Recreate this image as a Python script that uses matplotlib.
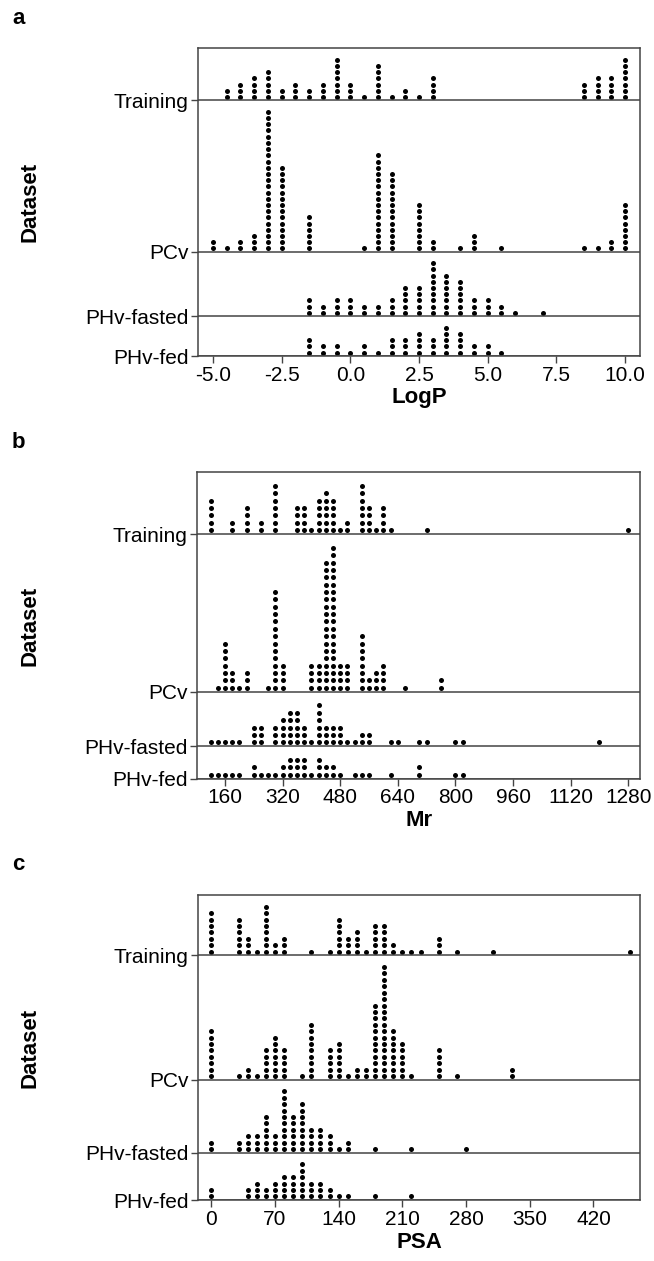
import numpy as np
import matplotlib.pyplot as plt

plt.rcParams['font.family'] = ['Liberation Sans', 'DejaVu Sans']

groups = ['Training', 'PCv', 'PHv-fasted', 'PHv-fed']

# panel a: LogP
logp_training_x = [-4.5, -4, -3.5, -3, -2.5, -2, -1.5, -1, -0.5, 0, 0.5, 1, 1.5, 2, 2.5, 3, 8.5, 9, 9.5, 10]
logp_training_n = [2, 3, 4, 5, 2, 3, 2, 3, 7, 3, 1, 6, 1, 2, 1, 4, 3, 4, 4, 7]
logp_pcv_x = [-5, -4.5, -4, -3.5, -3, -2.5, -1.5, 0.5, 1, 1.5, 2.5, 3, 4, 4.5, 5.5, 8.5, 9, 9.5, 10]
logp_pcv_n = [2, 1, 2, 3, 23, 14, 6, 1, 16, 13, 8, 2, 1, 3, 1, 1, 1, 2, 8]
logp_fasted_x = [-1.5, -1, -0.5, 0, 0.5, 1, 1.5, 2, 2.5, 3, 3.5, 4, 4.5, 5, 5.5, 6, 7]
logp_fasted_n = [3, 2, 3, 3, 2, 2, 3, 5, 5, 9, 7, 6, 3, 3, 2, 1, 1]
logp_fed_x = [-1.5, -1, -0.5, 0, 0.5, 1, 1.5, 2, 2.5, 3, 3.5, 4, 4.5, 5, 5.5]
logp_fed_n = [3, 2, 2, 1, 2, 1, 3, 3, 4, 3, 5, 4, 2, 2, 1]
logp_ticks = [-5.0, -2.5, 0.0, 2.5, 5.0, 7.5, 10.0]

# panel b: Mr
mr_training_x = [120, 180, 220, 260, 300, 360, 380, 400, 420, 440, 460, 480, 500, 540, 560, 580, 600, 620, 720, 1280]
mr_training_n = [5, 2, 4, 2, 7, 4, 4, 1, 5, 6, 5, 1, 2, 7, 4, 1, 4, 1, 1, 1]
mr_pcv_x = [140, 160, 180, 200, 220, 280, 300, 320, 400, 420, 440, 460, 480, 500, 540, 560, 580, 600, 660, 760]
mr_pcv_n = [1, 7, 3, 1, 3, 1, 14, 4, 4, 4, 18, 20, 4, 4, 8, 2, 3, 4, 1, 2]
mr_fasted_x = [120, 140, 160, 180, 200, 240, 260, 300, 320, 340, 360, 380, 400, 420, 440, 460, 480, 500,
               520, 540, 560, 620, 640, 700, 720, 800, 820, 1200]
mr_fasted_n = [1, 1, 1, 1, 1, 3, 3, 3, 4, 5, 5, 3, 1, 6, 3, 3, 3, 1, 1, 2, 2, 1, 1, 1, 1, 1, 1, 1]
mr_fed_x = [120, 140, 160, 180, 200, 240, 260, 280, 300, 320, 340, 360, 380, 400, 420, 440, 460, 480,
            520, 540, 560, 620, 700, 800, 820]
mr_fed_n = [1, 1, 1, 1, 1, 2, 1, 1, 1, 2, 3, 3, 3, 1, 3, 2, 2, 1, 1, 1, 1, 1, 2, 1, 1]
mr_ticks = [160, 320, 480, 640, 800, 960, 1120, 1280]

# panel c: PSA
psa_training_x = [0, 30, 40, 50, 60, 70, 80, 110, 130, 140, 150, 160, 170, 180, 190, 200, 210, 220, 230, 250, 270, 310, 460]
psa_training_n = [7, 6, 3, 1, 8, 2, 3, 1, 1, 6, 3, 4, 1, 5, 5, 2, 1, 1, 1, 3, 1, 1, 1]
psa_pcv_x = [0, 30, 40, 50, 60, 70, 80, 100, 110, 130, 140, 150, 160, 170, 180, 190, 200, 210, 220, 250, 270, 330]
psa_pcv_n = [8, 1, 2, 1, 5, 7, 5, 1, 9, 5, 6, 1, 2, 2, 12, 18, 8, 6, 1, 5, 1, 2]
psa_fasted_x = [0, 30, 40, 50, 60, 70, 80, 90, 100, 110, 120, 130, 140, 150, 180, 220, 280]
psa_fasted_n = [2, 2, 3, 3, 6, 3, 10, 6, 8, 4, 4, 3, 1, 2, 1, 1, 1]
psa_fed_x = [0, 40, 50, 60, 70, 80, 90, 100, 110, 120, 130, 140, 150, 180, 220]
psa_fed_n = [2, 2, 3, 2, 3, 4, 4, 6, 3, 3, 2, 1, 1, 1, 1]
psa_ticks = [0, 70, 140, 210, 280, 350, 420]

W, H = 654, 1261
fig = plt.figure(figsize=(W / 100, H / 100), dpi=100)


def dotpanel(box, data, xlim, ticks, ticklabels, xlabel, letter):
    l, t, r, b = box
    ax = fig.add_axes([l / W, 1 - b / H, (r - l) / W, (b - t) / H])
    pad = 1.4
    heights = [max(n) + pad for _, n in data]
    top = sum(heights)
    baselines = []
    for (xs, ns), h in zip(data, heights):
        base = top - h
        baselines.append(base)
        for x, n in zip(xs, ns):
            ys = base + 0.55 + np.arange(n)
            ax.plot([x] * n, ys, 'o', color='black', ms=3.6, mew=0, clip_on=False)
        if base > 0:
            ax.axhline(base, color='#444444', lw=1.1)
        top = base
    ax.set_xlim(*xlim)
    ax.set_ylim(0, sum(heights))
    ax.set_yticks(baselines)
    ax.set_yticklabels(groups, fontsize=15)
    ax.set_xticks(ticks)
    ax.set_xticklabels(ticklabels, fontsize=15)
    ax.tick_params(direction='out', length=5, width=1, color='#444444', pad=2)
    for s in ax.spines.values():
        s.set_color('#444444')
        s.set_linewidth(1.1)
    ax.set_xlabel(xlabel, fontsize=16, fontweight='bold', labelpad=2)
    fig.text(30 / W, 1 - (t + b) / 2 / H, 'Dataset', rotation=90, ha='center', va='center',
             fontsize=16, fontweight='bold')
    fig.text(12 / W, 1 - (t - 30) / H, letter, ha='left', va='center', fontsize=16, fontweight='bold')
    return ax


dotpanel((198.3, 48.3, 640, 356),
         [(logp_training_x, logp_training_n), (logp_pcv_x, logp_pcv_n),
          (logp_fasted_x, logp_fasted_n), (logp_fed_x, logp_fed_n)],
         (-5.535, 10.546), logp_ticks, [f'{v:.1f}' for v in logp_ticks], 'LogP', 'a')

dotpanel((197.3, 472.3, 640, 778.7),
         [(mr_training_x, mr_training_n), (mr_pcv_x, mr_pcv_n),
          (mr_fasted_x, mr_fasted_n), (mr_fed_x, mr_fed_n)],
         (83, 1312.5), mr_ticks, [str(v) for v in mr_ticks], 'Mr', 'b')

dotpanel((198, 895, 640, 1200),
         [(psa_training_x, psa_training_n), (psa_pcv_x, psa_pcv_n),
          (psa_fasted_x, psa_fasted_n), (psa_fed_x, psa_fed_n)],
         (-14.6, 471.1), psa_ticks, [str(v) for v in psa_ticks], 'PSA', 'c')

fig.savefig('out.png', dpi=100, facecolor='white')
